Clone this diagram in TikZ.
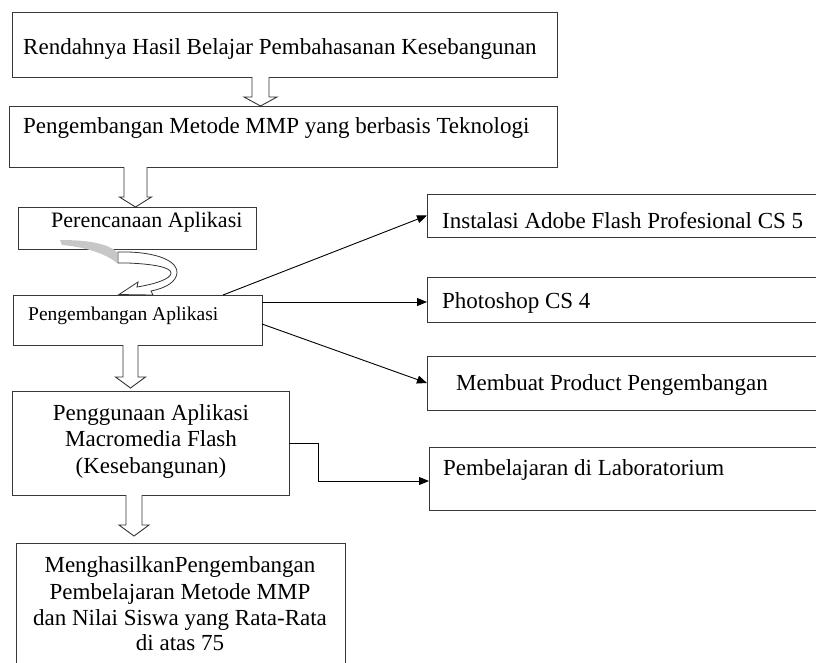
\documentclass[tikz,border=0pt]{standalone}
\usepackage{fontspec}
\setmainfont{Liberation Serif}
\usetikzlibrary{arrows.meta,calc}
\newcommand\hollowdownarrow[7]{% #1 top node, #2 bottom node, #3 x, #4 shaft half, #5 head half, #6 head length, #7 gap
  \coordinate (hx) at (#3,0);
  \draw[harrow] ($(hx|-#1.south)+(-#4,0)$) -- ($(hx|-#2.north)+(-#4,-#6-#7)$) -- ($(hx|-#2.north)+(-#5,-#6-#7)$) -- ($(hx|-#2.north)+(0,-#7)$) -- ($(hx|-#2.north)+(#5,-#6-#7)$) -- ($(hx|-#2.north)+(#4,-#6-#7)$) -- ($(hx|-#1.south)+(#4,0)$);
}
\begin{document}
\begin{tikzpicture}[x=1pt,y=-1pt,
  box/.style={draw=black!78, line width=1pt, inner sep=0pt, outer sep=0pt, rectangle},
  harrow/.style={draw=black!80, line width=0.9pt, fill=white, line join=miter},
  conn/.style={draw=black, line width=0.9pt, -{Triangle[length=10pt,width=8pt]}},
  big/.style={font=\fontsize{23}{26}\selectfont, inner sep=0pt},
  mid/.style={font=\fontsize{22}{26}\selectfont, inner sep=0pt},
  small/.style={font=\fontsize{19.5}{23}\selectfont, inner sep=0pt}]
\useasboundingbox (0,0) rectangle (816,662);
% boxes
\node[box, minimum width=545pt, minimum height=65pt] (b1) at (284.5,44.5) {};
\node[box, minimum width=548pt, minimum height=61pt] (b2) at (283,136.5) {};
\node[box, minimum width=238pt, minimum height=42pt] (b3) at (137,228) {};
\node[box, minimum width=249pt, minimum height=50pt] (b4) at (137.5,320) {};
\node[box, minimum width=277pt, minimum height=104pt] (b5) at (150.5,443) {};
\node[box, minimum width=329pt, minimum height=137pt] (b6) at (180.5,611.5) {};
\node[box, minimum width=403pt, minimum height=43pt] (r1) at (628.5,215.5) {};
\node[box, minimum width=403pt, minimum height=45pt] (r2) at (628.5,299.5) {};
\node[box, minimum width=403pt, minimum height=54pt] (r3) at (628.5,383) {};
\node[box, minimum width=401pt, minimum height=63pt] (r4) at (629.5,478.5) {};
% texts
\node[big, anchor=base west] (t1) at (23,54) {Rendahnya Hasil Belajar Pembahasanan Kesebangunan};
\node[big, anchor=base west] (t2) at (23,133) {Pengembangan Metode MMP yang berbasis Teknologi};
\node[mid, anchor=base west] (t3) at (51,227) {Perencanaan Aplikasi};
\node[small, anchor=base west] (t4) at (28,320) {Pengembangan Aplikasi};
\node[big, anchor=base] (t5a) at (151,420) {Penggunaan Aplikasi};
\node[big, anchor=base] (t5b) at (151,446) {Macromedia Flash};
\node[big, anchor=base] (t5c) at (151,473) {(Kesebangunan)};
\node[big, anchor=base] (t6a) at (180,572) {MenghasilkanPengembangan};
\node[big, anchor=base] (t6b) at (180,599) {Pembelajaran Metode MMP};
\node[big, anchor=base] (t6c) at (180,625) {dan Nilai Siswa yang Rata-Rata};
\node[big, anchor=base] (t6d) at (180,650) {di atas 75};
\node[big, anchor=base west] (s1) at (442,228) {Instalasi Adobe Flash Profesional CS 5};
\node[big, anchor=base west] (s2) at (442,308) {Photoshop CS 4};
\node[big, anchor=base west] (s3) at (456,390) {Membuat Product Pengembangan};
\node[big, anchor=base west] (s4) at (443,475) {Pembelajaran di Laboratorium};
% hollow block arrows
\hollowdownarrow{b1}{b2}{260.5}{8.5}{16.5}{9}{0}
\hollowdownarrow{b2}{b3}{135.5}{11.5}{16}{10}{0}
\hollowdownarrow{b4}{b5}{130.5}{7.5}{15}{11}{3}
\hollowdownarrow{b5}{b6}{134}{8}{15}{11}{7}
% curved arrow between b3 and b4
\fill[black!22] (60,240) .. controls (90,240) and (108,244) .. (117,252) -- (117,263) .. controls (106,254) and (86,247) .. (62,245) -- cycle;
\draw[harrow, line width=0.8pt] (118,252) -- (128,252) .. controls (162,253) and (178,263) .. (177,273) .. controls (176,282) and (166,288) .. (151,291) -- (153,295) -- (119,294.5) -- (138,282) -- (137,287) .. controls (155,284) and (171,279) .. (171,273) .. controls (171,267) and (152,264) .. (128,263) -- (118,263) -- cycle;
% connectors
\draw[conn] ([xshift=85.5pt]b4.north) -- (r1.west);
\draw[conn] ([yshift=18pt]b4.east) -- ([yshift=18pt]b4.east -| r2.west);
\draw[conn] ([yshift=-4pt]b4.east) -- (r3.west);
\draw[conn] (b5.east) -- ++(29,0) |- ([yshift=-2.5pt]r4.west);
\end{tikzpicture}
\end{document}
